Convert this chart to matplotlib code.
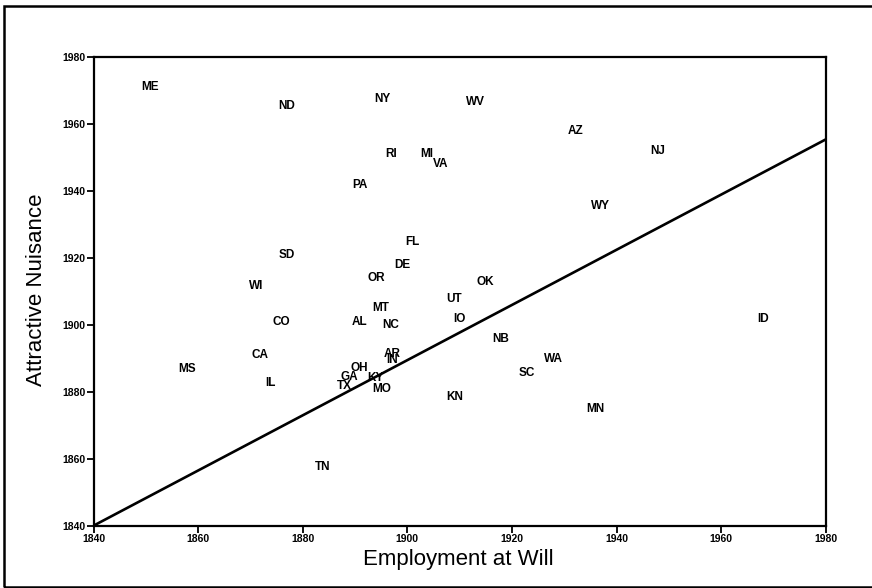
import matplotlib
matplotlib.use("Agg")
import matplotlib.pyplot as plt
from matplotlib.patches import Rectangle

states = ["ME", "ND", "NY", "WV", "AZ", "NJ", "RI", "MI", "VA", "PA", "WY",
          "FL", "SD", "DE", "OR", "OK", "WI", "UT", "MT", "IO", "ID", "CO",
          "AL", "NC", "NB", "CA", "AR", "IN", "WA", "MS", "OH", "SC", "GA",
          "KY", "IL", "TX", "MO", "KN", "MN", "TN"]
employment_at_will = [1850.8, 1877.0, 1895.2, 1913.1, 1932.1, 1947.9, 1896.9,
                      1903.8, 1906.3, 1891.0, 1936.9, 1900.9, 1877.0, 1899.0,
                      1894.0, 1914.9, 1871.1, 1909.0, 1895.0, 1909.9, 1968.0,
                      1875.9, 1890.8, 1896.9, 1917.9, 1871.9, 1897.2, 1897.0,
                      1928.0, 1857.9, 1890.9, 1922.9, 1889.0, 1894.0, 1873.8,
                      1887.9, 1895.1, 1909.1, 1935.9, 1883.9]
attractive_nuisance = [1971.0, 1965.3, 1967.4, 1966.5, 1957.8, 1951.8, 1951.0,
                       1951.0, 1948.0, 1941.7, 1935.4, 1924.7, 1920.8, 1917.8,
                       1913.9, 1912.7, 1911.6, 1907.7, 1904.9, 1901.7, 1901.7,
                       1900.8, 1900.8, 1899.9, 1895.7, 1891.0, 1891.2, 1889.5,
                       1889.7, 1886.8, 1887.0, 1885.6, 1884.4, 1884.1, 1882.6,
                       1881.7, 1880.9, 1878.4, 1874.8, 1857.5]

fit_x = [1840, 1980]
fit_y = [1840, 1955.3]

ticks = [1840, 1860, 1880, 1900, 1920, 1940, 1960, 1980]

plt.rcParams['font.family'] = ['Liberation Sans', 'DejaVu Sans']

fig = plt.figure(figsize=(8.72, 5.88), dpi=100)
W, H = 872, 588
ax = fig.add_axes([93.5 / W, 1 - 525.7 / H, (825.7 - 93.5) / W, (525.7 - 56.7) / H])

for s, x, y in zip(states, employment_at_will, attractive_nuisance):
    ax.text(x, y, s, ha='center', va='center', fontsize=8.5, fontweight='bold',
            color='black')

ax.plot(fit_x, fit_y, color='black', linewidth=1.9, solid_capstyle='butt')

ax.set_xlim(1840, 1980)
ax.set_ylim(1840, 1980)
ax.set_xticks(ticks)
ax.set_yticks(ticks)
ax.set_xticklabels([str(t) for t in ticks], fontsize=7.5, fontweight='bold')
ax.set_yticklabels([str(t) for t in ticks], fontsize=7.5, fontweight='bold')
ax.tick_params(direction='out', length=5, width=1.3, pad=1, colors='black')
for sp in ax.spines.values():
    sp.set_linewidth(1.6)
    sp.set_color('black')

fig.text(458 / W, 1 - 560 / H, "Employment at Will", ha='center', va='center',
         fontsize=16)
fig.text(37 / W, 1 - 290 / H, "Attractive Nuisance", ha='center', va='center',
         rotation=90, fontsize=16)

frame = Rectangle((4 / W, 1 - 587 / H), (880 - 4) / W, (587 - 6) / H,
                  transform=fig.transFigure, fill=False, edgecolor='black',
                  linewidth=1.8)
fig.patches.append(frame)

fig.savefig("out.png", dpi=100)
